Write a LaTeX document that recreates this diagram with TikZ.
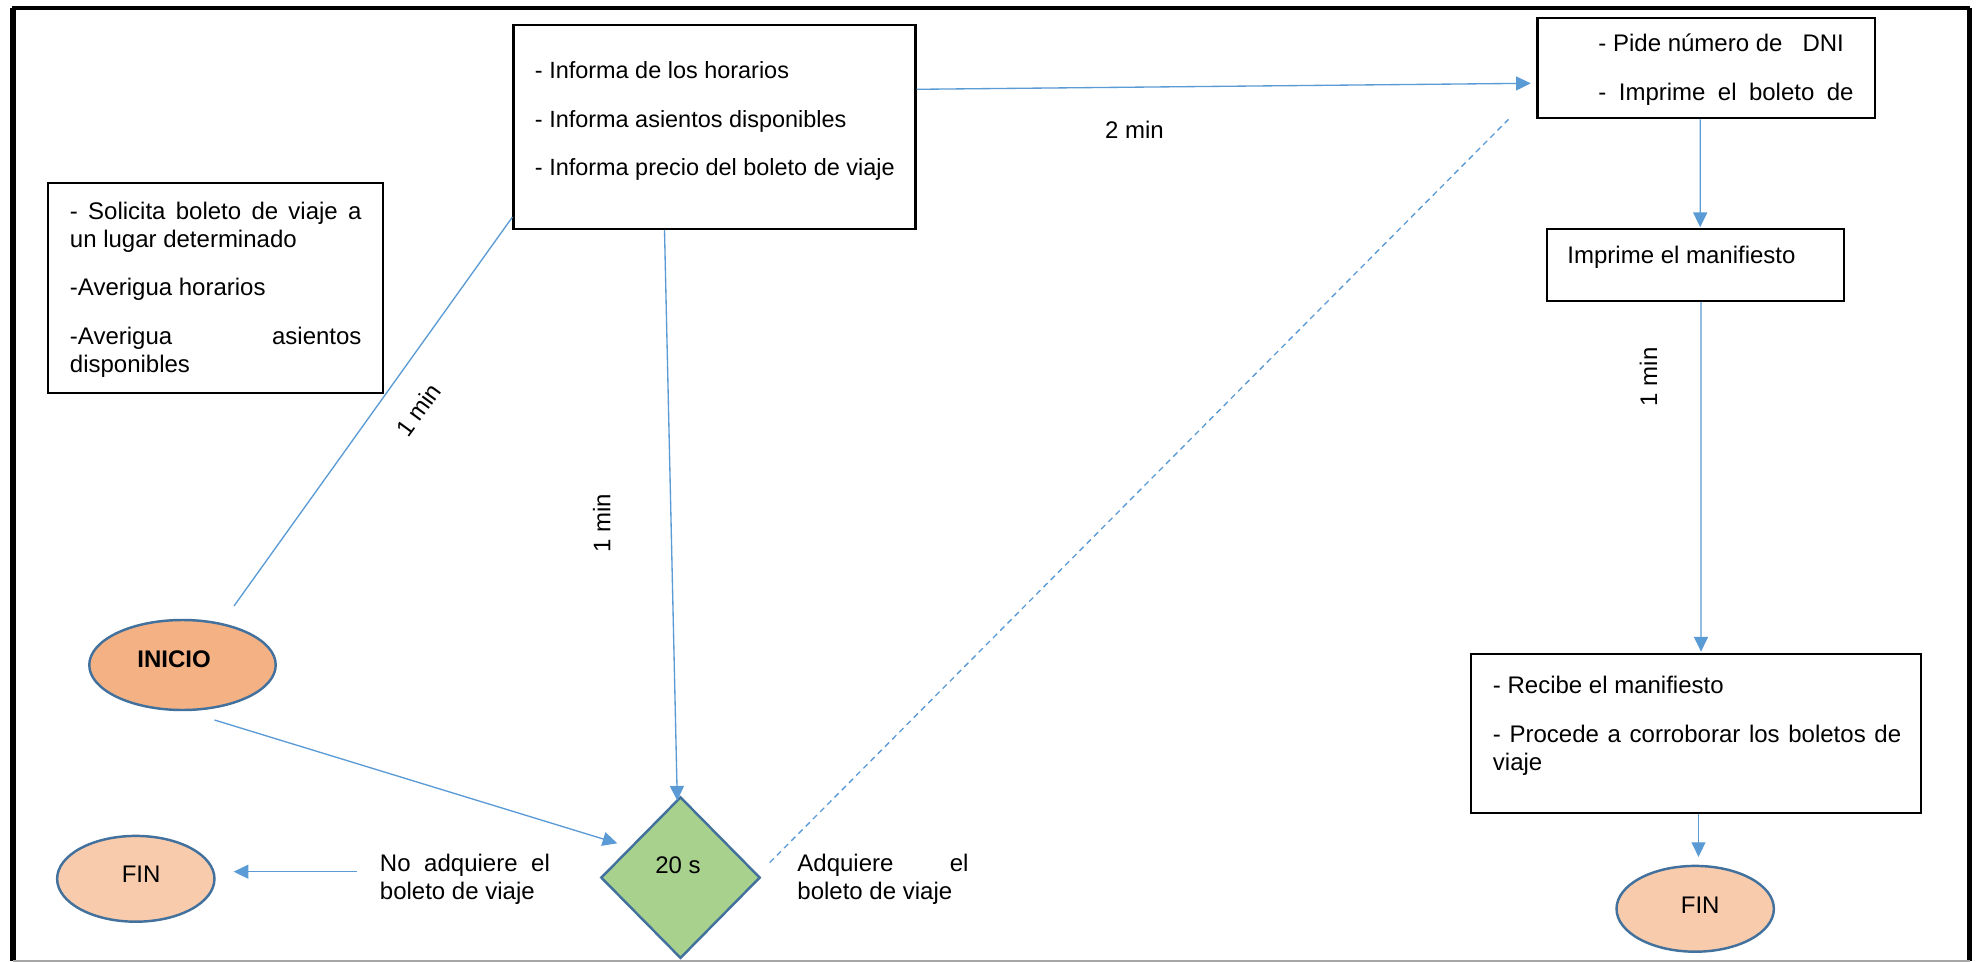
\documentclass[tikz,border=0pt]{standalone}
\usepackage{fontspec}
\setmainfont{Liberation Sans}
\usetikzlibrary{arrows.meta,shapes.geometric,calc}
\definecolor{conn}{HTML}{5B9BD5}
\definecolor{shapeln}{HTML}{41719C}
\definecolor{inifill}{HTML}{F4B183}
\definecolor{finfill}{HTML}{F8CBAD}
\definecolor{diafill}{HTML}{A9D18E}
\definecolor{framegray}{HTML}{A6A6A6}
\newcommand{\diafont}{\fontsize{10.8}{12.6}\selectfont}
\begin{document}
\begin{tikzpicture}[x=0.45pt,y=-0.45pt,
  every node/.style={font=\diafont},
  procbox/.style={rectangle, draw=black, line width=1pt, fill=white, inner sep=0pt},
  termnode/.style={ellipse, draw=shapeln, line width=1.1pt, inner sep=0pt},
  decnode/.style={diamond, draw=shapeln, fill=diafill, line width=1.1pt, inner sep=0pt},
  txt/.style={anchor=base west, inner sep=0pt},
  lbl/.style={inner sep=0pt},
  flowline/.style={draw=conn, line width=0.6pt},
  flow/.style={flowline, -{Triangle[length=6.6pt,width=6.3pt]}},
  dashflow/.style={flowline, dashed, dash pattern=on 2.6pt off 2pt}]
\useasboundingbox (0,0) rectangle (1978,962);
\fill[white] (0,0) rectangle (1978,962);
% frame
\draw[line width=2.5pt] (13,8) -- (13,961);
\draw[line width=1.7pt] (12,8) -- (1970,8);
\draw[line width=2.4pt] (1969.5,8) -- (1969.5,961);
\draw[framegray, line width=0.9pt] (13,960.5) -- (1969.5,960.5);
% boxes
\node[procbox, minimum width=180.9pt, minimum height=91.8pt] (info) at (714.5,127) {};
\node[procbox, minimum width=150.9pt, minimum height=94.5pt] (sol) at (215.7,288.3) {};
\node[procbox, minimum width=151.7pt, minimum height=45pt] (pide) at (1706.1,68.3) {};
\node[procbox, minimum width=133.6pt, minimum height=32.3pt] (impr) at (1695.75,265.15) {};
\node[procbox, minimum width=202.5pt, minimum height=71.4pt] (recibe) at (1696,733.35) {};
% box texts
\node[txt, font=\fontsize{10.55}{12.6}\selectfont] (infoT) at (534.5,78.6) {\parbox[t]{170pt}{- Informa de los horarios\\[9.2pt]- Informa asientos disponibles\\[9.2pt]- Informa precio del boleto de viaje}};
\node[txt] (solT) at (69.5,219.3) {\parbox[t]{131.2pt}{\makebox[131.2pt][s]{- Solicita boleto de viaje a}\\un lugar determinado\\[9.2pt]-Averigua horarios\\[9.2pt]\makebox[131.2pt][s]{-Averigua asientos}\\disponibles}};
\node[txt] (pideT) at (1598,51.9) {\parbox[t]{114.8pt}{- Pide número de\ \ \ DNI\\[9.2pt]\makebox[114.8pt][s]{- Imprime el boleto de}}};
\node[txt] (imprT) at (1567,263.6) {Imprime el manifiesto};
\node[txt] (recT) at (1492.5,693.6) {\parbox[t]{183.7pt}{- Recibe el manifiesto\\[9.2pt]\makebox[183.7pt][s]{- Procede a corroborar los boletos de}\\viaje}};
% terminals and decision
\node[termnode, fill=inifill, minimum width=83.9pt, minimum height=40.5pt,
  label={[name=inicioT, font=\diafont\bfseries, xshift=-3.8pt, yshift=2.7pt]center:INICIO}] (inicio) at (182.5,665) {};
\node[termnode, fill=finfill, minimum width=70.8pt, minimum height=38.6pt,
  label={[name=finLT, xshift=2.4pt, yshift=2.2pt]center:FIN}] (finL) at (135.8,878.8) {};
\node[termnode, fill=finfill, minimum width=70.8pt, minimum height=38.6pt,
  label={[name=finRT, xshift=2.25pt, yshift=1.7pt]center:FIN}] (finR) at (1695.2,908.8) {};
\node[decnode, minimum width=71.7pt, minimum height=72.7pt,
  label={[name=diaT, xshift=-1.1pt, yshift=5.7pt]center:20 s}] (dia) at (680.5,877.6) {};
% side texts
\node[txt] (noT) at (379.5,871.9) {\parbox[t]{76.5pt}{\makebox[76.5pt][s]{No adquiere el}\\boleto de viaje}};
\node[txt] (siT) at (797,871.9) {\parbox[t]{77pt}{\makebox[77pt][s]{Adquiere el}\\boleto de viaje}};
% connectors
\coordinate (s1) at (234,606);
\draw[flowline] (s1) -- ($(info.south west)+(0,-13)$);
\coordinate (s2) at (214.5,720);
\coordinate (e2) at (617.3,843.3);
\draw[flow] (s2) -- (e2);
\draw[flow] ($(info.south)+(-50,0)$) -- ($(dia.north)+(-3.2,5)$);
\draw[flow] ($(info.east)+(0,-37.7)$) -- ($(pide.west)+(-5.7,15)$);
\draw[dashflow] ($(dia.east)+(8.3,-15)$) -- ($(pide.south west)+(-28,0)$);
\draw[flow] ($(pide.south)+(-5.9,0)$) -- ($(impr.north)+(4.45,-1)$);
\draw[flow] ($(impr.south)+(5.25,0)$) -- ($(recibe.north)+(5,-1.3)$);
\coordinate (r1) at ($(recibe.south)+(2.5,0)$);
\draw[flow, shorten >=3.5pt] (r1) -- (r1 |- finR.north);
\coordinate (s9) at (357.1,871.7);
\draw[flow, shorten >=8.1pt] (s9) -- (s9 -| finL.east);
% time labels
\node[lbl, rotate=54] (m1) at (418.3,410) {1 min};
\node[lbl, rotate=90] (m2) at (601.7,523.3) {1 min};
\node[lbl, rotate=90] (m3) at (1648.3,376.7) {1 min};
\node[lbl] (m4) at (1134.5,130) {2 min};
\end{tikzpicture}
\end{document}
